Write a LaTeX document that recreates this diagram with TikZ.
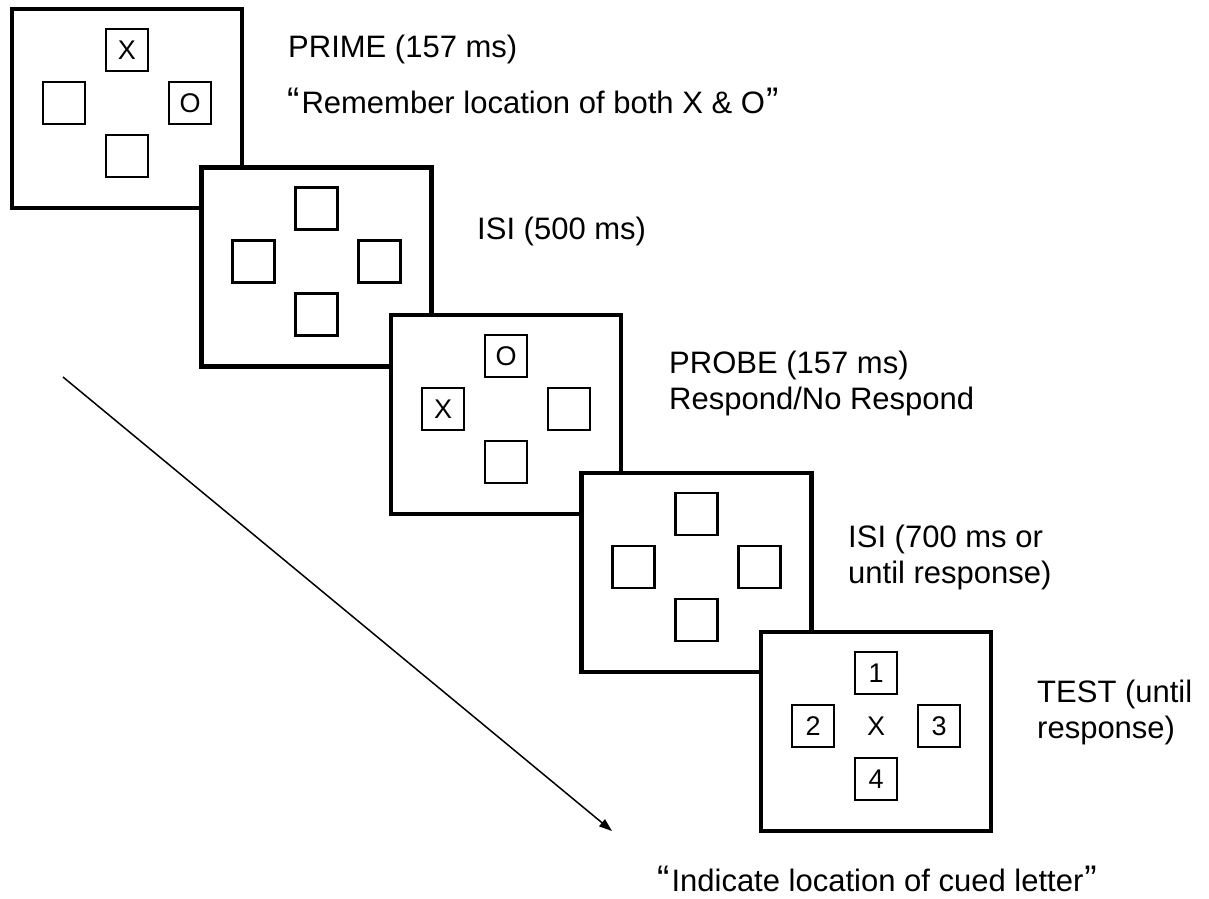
\documentclass[tikz,border=0pt]{standalone}
\usepackage{fontspec}
\setmainfont{Liberation Sans}
\usetikzlibrary{arrows.meta,calc}
% larger quotation marks around the spoken instructions
\newcommand{\openq}{{\fontsize{37}{37}\selectfont\char"201C}\kern2pt}
\newcommand{\closeq}{\kern1pt{\fontsize{37}{37}\selectfont\char"201D}}
\begin{document}
\begin{tikzpicture}[x=1pt,y=-1pt,
  screen/.style={draw, line width=4.5pt, fill=white, minimum width=230pt,
    minimum height=199pt, inner sep=0pt},
  cell/.style={draw, line width=2.3pt, fill=white, minimum size=42pt,
    inner sep=0pt, font=\fontsize{27}{32}\selectfont},
  cuetext/.style={anchor=base west, inner sep=0pt,
    font=\fontsize{31}{37}\selectfont}
]
\useasboundingbox (0,0) rectangle (1209,898);

% time arrow running down the sequence
\coordinate (tstart) at (63,377);
\coordinate (tend) at (612,831);
\draw[line width=1.5pt, -{Triangle[length=13pt,width=9pt]}] (tstart) -- (tend);

% frame 1: prime
\node[screen] (f1) at (127,108.5) {};
\node[cell] (f1t) at ($(f1)+(0,-58.5)$) {X};
\node[cell] (f1l) at ($(f1)+(-63,-5.5)$) {};
\node[cell] (f1r) at ($(f1)+(63,-5.5)$) {O};
\node[cell] (f1b) at ($(f1)+(0,47.5)$) {};

% frame 2: first interval
\node[screen] (f2) at (316.5,267) {};
\node[cell] (f2t) at ($(f2)+(0,-58.5)$) {};
\node[cell] (f2l) at ($(f2)+(-63,-5.5)$) {};
\node[cell] (f2r) at ($(f2)+(63,-5.5)$) {};
\node[cell] (f2b) at ($(f2)+(0,47.5)$) {};

% frame 3: probe
\node[screen] (f3) at (506,414.5) {};
\node[cell] (f3t) at ($(f3)+(0,-58.5)$) {O};
\node[cell] (f3l) at ($(f3)+(-63,-5.5)$) {X};
\node[cell] (f3r) at ($(f3)+(63,-5.5)$) {};
\node[cell] (f3b) at ($(f3)+(0,47.5)$) {};

% frame 4: second interval
\node[screen] (f4) at (696.5,572.5) {};
\node[cell] (f4t) at ($(f4)+(0,-58.5)$) {};
\node[cell] (f4l) at ($(f4)+(-63,-5.5)$) {};
\node[cell] (f4r) at ($(f4)+(63,-5.5)$) {};
\node[cell] (f4b) at ($(f4)+(0,47.5)$) {};

% frame 5: test
\node[screen] (f5) at (876,731.5) {};
\node[cell] (f5t) at ($(f5)+(0,-58.5)$) {1};
\node[cell] (f5l) at ($(f5)+(-63,-5.5)$) {2};
\node[cell] (f5r) at ($(f5)+(63,-5.5)$) {3};
\node[cell] (f5b) at ($(f5)+(0,47.5)$) {4};
\node[inner sep=0pt, font=\fontsize{27}{32}\selectfont] (f5c) at ($(f5)+(0,-5.5)$) {X};

% captions
\node[cuetext] (c1a) at (288,57) {PRIME (157 ms)};
\node[cuetext] (c1b) at (287,113) {\openq Remember location of both X \& O\closeq};
\node[cuetext] (c2a) at (477,239) {ISI (500 ms)};
\node[cuetext] (c3a) at (669,373) {PROBE (157 ms)};
\node[cuetext] (c3b) at (669,409) {Respond/No Respond};
\node[cuetext] (c4a) at (848,547) {ISI (700 ms or};
\node[cuetext] (c4b) at (848,583) {until response)};
\node[cuetext] (c5a) at (1037,702) {TEST (until};
\node[cuetext] (c5b) at (1037,738) {response)};
\node[cuetext] (c6) at (657,891) {\openq Indicate location of cued letter\closeq};
\end{tikzpicture}
\end{document}
